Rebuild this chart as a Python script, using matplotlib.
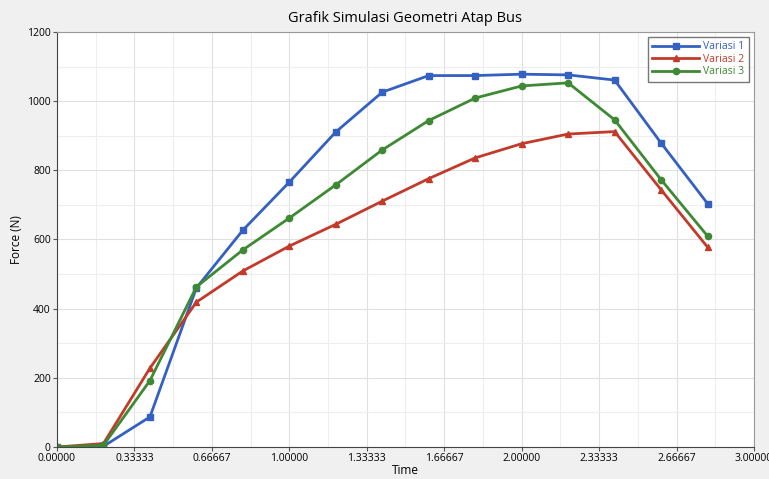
import matplotlib
matplotlib.use('Agg')
import matplotlib.pyplot as plt
import numpy as np
from matplotlib.ticker import MultipleLocator, FixedLocator

plt.rcParams['font.family'] = ['Open Sans', 'DejaVu Sans']

time = [0.0, 0.2, 0.4, 0.6, 0.8, 1.0, 1.2, 1.4, 1.6, 1.8, 2.0, 2.2, 2.4, 2.6, 2.8]
variasi1 = [0, 2, 87, 460, 627, 766, 911, 1026, 1074, 1074, 1078, 1076, 1061, 879, 704]
variasi2 = [0, 10, 228, 419, 509, 581, 644, 711, 776, 836, 877, 905, 912, 744, 578]
variasi3 = [0, 5, 192, 463, 570, 662, 758, 859, 944, 1009, 1044, 1053, 946, 773, 610]
xticks = [0, 1/3, 2/3, 1.0, 4/3, 5/3, 2.0, 7/3, 8/3, 3.0]

fig = plt.figure(figsize=(7.69, 4.79), dpi=100, facecolor='#f0f0f0')
ax = fig.add_axes([57/769, 32/479, 697/769, 415/479])
ax.set_facecolor('white')

ax.plot(time, variasi1, color='#3461c1', marker='s', markersize=4, lw=2, label='Variasi 1')
ax.plot(time, variasi2, color='#c23a2a', marker='^', markersize=4.5, lw=2, label='Variasi 2')
ax.plot(time, variasi3, color='#3e8933', marker='o', markersize=4.5, lw=2, label='Variasi 3')

ax.set_xlim(0, 3)
ax.set_ylim(0, 1200)
ax.xaxis.set_major_locator(FixedLocator(xticks))
ax.set_xticklabels(['%.5f' % t for t in xticks])
ax.xaxis.set_minor_locator(MultipleLocator(1/6))
ax.yaxis.set_major_locator(MultipleLocator(200))
ax.yaxis.set_minor_locator(MultipleLocator(100))
ax.grid(which='major', color='#e0e0e0', lw=0.8)
ax.grid(which='minor', color='#eeeeee', lw=0.8)
ax.tick_params(which='minor', length=0)
ax.tick_params(which='major', labelsize=7.5, length=3, color='#555555', pad=1.5)
for s in ['left', 'bottom']:
    ax.spines[s].set_color('#444444')
for s in ['top', 'right']:
    ax.spines[s].set_color('#999999')

ax.set_title('Grafik Simulasi Geometri Atap Bus', fontsize=10.5, pad=7)
ax.set_xlabel('Time', fontsize=8.5, labelpad=0)
ax.set_ylabel('Force (N)', fontsize=8.5, labelpad=3)

leg = ax.legend(loc='upper right', fontsize=7.5, frameon=True, fancybox=False,
                edgecolor='#555555', handlelength=4.5, borderpad=0.4,
                labelspacing=0.15, handletextpad=0.4)
for txt, line in zip(leg.get_texts(), leg.get_lines()):
    txt.set_color(line.get_color())

fig.savefig('out.png', dpi=100, facecolor=fig.get_facecolor())
